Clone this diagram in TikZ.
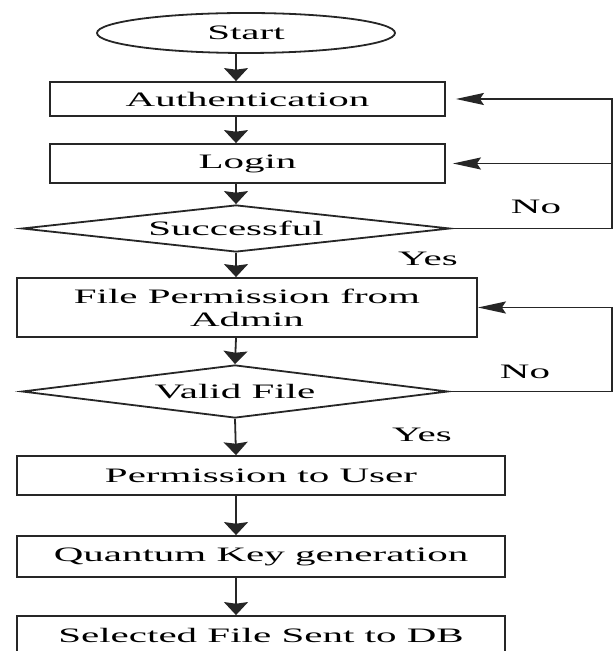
\documentclass[tikz,border=0pt]{standalone}
\usepackage{graphicx}
\usepackage{fontspec}
\setmainfont{Liberation Serif}
\usetikzlibrary{
  arrows.meta,
  shapes.geometric
}
\newcommand{\wide}[1]{\scalebox{2}[1]{#1}}
\tikzset{
  >={Stealth[length=6.5pt, width=12pt, inset=0.8pt]},
  every node/.style = {font=\fontsize{10.25}{11.5}\selectfont},
  flow/.style = {draw=black!85, line width=0.9pt},
  box/.style = {flow, rectangle, inner sep=0pt, align=center},
  test/.style = {flow, diamond, inner sep=0pt, aspect=9},
  back/.style = {-{Stealth[length=14pt, width=6pt, inset=2pt]}},
}

\begin{document}
\begin{tikzpicture}[x=0.5pt, y=-0.5pt]
  \useasboundingbox (0,0) rectangle (614,651);
  \coordinate (axis) at (236,0);
  \coordinate (rail) at (612,0);

  \node[flow, ellipse, inner sep=0pt, minimum width=149pt, minimum height=20pt] (start) at (246,33) {\wide{Start}};
  \node[box, minimum width=197.5pt, minimum height=17pt] (auth) at (247.5,99) {\wide{Authentication}};
  \node[box, minimum width=197.5pt, minimum height=19.5pt] (login) at (247.5,163.5) {\wide{Login}};
  \node[test, minimum width=214pt, minimum height=23.5pt] (succ) at (236,228.5) {\wide{Successful}};
  \node[box, minimum width=230pt, minimum height=29.5pt] (perm) at (247,307.5) {\wide{File Permission from}\\\wide{Admin}};
  \node[test, minimum width=213pt, minimum height=26.5pt] (valid) at (235,391.5) {\wide{Valid File}};
  \node[box, minimum width=244pt, minimum height=19.5pt] (user) at (261,475.5) {\wide{Permission to User}};
  \node[box, minimum width=244pt, minimum height=20.5pt] (qkey) at (261,556.5) {\wide{Quantum Key generation}};
  \node[box, minimum width=244pt, minimum height=19pt] (sent) at (261,635) {\wide{Selected File Sent to DB}};

  \node (no1) at (536,207) {\wide{No}};
  \node (yes1) at (428,259) {\wide{Yes}};
  \node (no2) at (525,372) {\wide{No}};
  \node (yes2) at (422,435) {\wide{Yes}};

  \draw[flow, ->] (start.south -| axis) -- (auth.north -| axis);
  \draw[flow, ->] (auth.south -| axis) -- (login.north -| axis);
  \draw[flow, ->] (login.south -| axis) -- (succ.north);
  \draw[flow, ->] (succ.south) -- (perm.north -| axis);
  \draw[flow, ->] (perm.south -| axis) -- (valid.north);
  \draw[flow, ->] (valid.south) -- (user.north -| axis);
  \draw[flow, ->] (user.south -| axis) -- (qkey.north -| axis);
  \draw[flow, ->] (qkey.south -| axis) -- (sent.north -| axis);

  % "No" branches go back up the right side
  \draw[flow, back, shorten >=5pt] (succ.east) -- (succ.east -| rail) |- (auth.east);
  \draw[flow, back, shorten >=3.5pt] (succ.east -| rail) |- (login.east);
  \draw[flow, back] (valid.east) -- (valid.east -| rail) |- (perm.east);
\end{tikzpicture}
\end{document}
